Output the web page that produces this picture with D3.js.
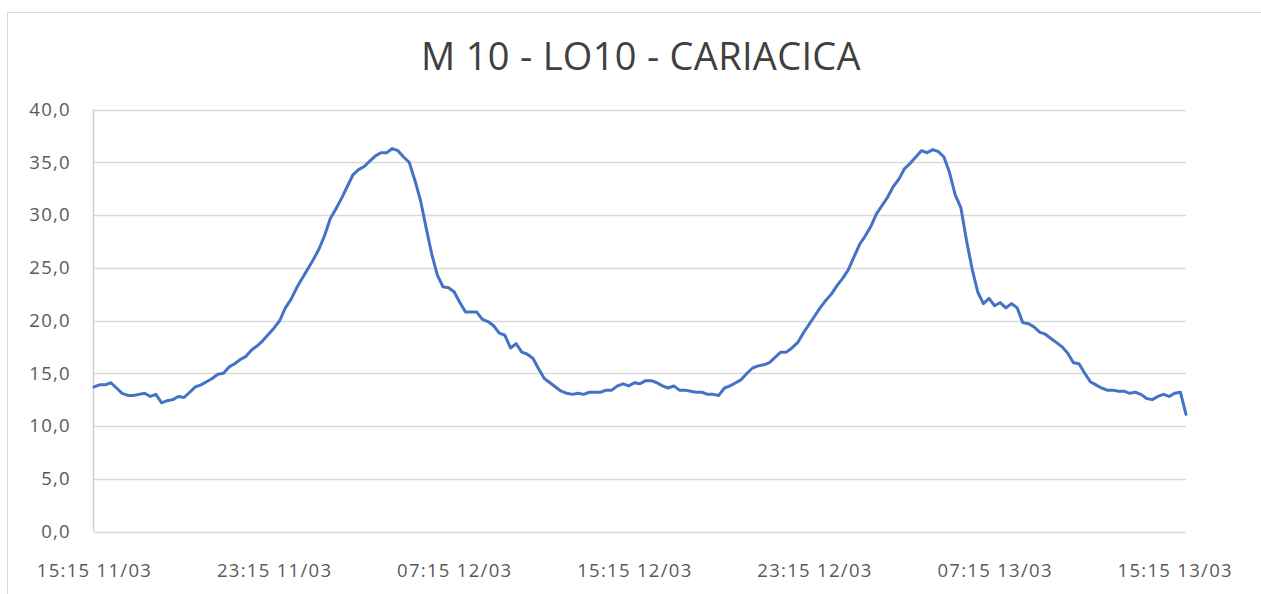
<!DOCTYPE html>
<html>
<head>
<meta charset="utf-8">
<script src="https://cdn.jsdelivr.net/npm/d3@7"></script>
<style>
  body { margin: 0; background: #fff; }
  svg text { font-family: "Open Sans", "Noto Sans", sans-serif; }
</style>
</head>
<body>
<div id="chart"></div>
<script>
// chart title
var title = "M 10 - LO10 - CARIACICA";

// readings every 15 minutes, starting 15:15 11/03
var startTime = new Date(2024, 2, 11, 15, 15);
var stepMinutes = 15;

// values
var values = [
  13.7, 13.9, 13.9, 14.1, 13.6, 13.1, 12.9, 12.9, 13.0, 13.1,
  12.8, 13.0, 12.2, 12.4, 12.5, 12.8, 12.7, 13.2, 13.7, 13.9,
  14.2, 14.5, 14.9, 15.0, 15.6, 15.9, 16.3, 16.6, 17.2, 17.6,
  18.1, 18.7, 19.3, 20.0, 21.2, 22.0, 23.1, 24.0, 24.9, 25.8,
  26.8, 28.1, 29.7, 30.6, 31.6, 32.7, 33.8, 34.3, 34.6, 35.1,
  35.6, 35.9, 35.9, 36.3, 36.1, 35.5, 35.0, 33.3, 31.4, 28.8,
  26.3, 24.3, 23.2, 23.1, 22.7, 21.7, 20.8, 20.8, 20.8, 20.1,
  19.9, 19.5, 18.8, 18.6, 17.4, 17.8, 17.0, 16.8, 16.4, 15.4,
  14.5, 14.1, 13.7, 13.3, 13.1, 13.0, 13.1, 13.0, 13.2, 13.2,
  13.2, 13.4, 13.4, 13.8, 14.0, 13.8, 14.1, 14.0, 14.3, 14.3,
  14.1, 13.8, 13.6, 13.8, 13.4, 13.4, 13.3, 13.2, 13.2, 13.0,
  13.0, 12.9, 13.6, 13.8, 14.1, 14.4, 15.0, 15.5, 15.7, 15.8,
  16.0, 16.5, 17.0, 17.0, 17.4, 17.9, 18.8, 19.6, 20.4, 21.2,
  21.9, 22.5, 23.3, 24.0, 24.8, 26.0, 27.2, 28.0, 28.9, 30.1,
  30.9, 31.7, 32.7, 33.4, 34.4, 34.9, 35.5, 36.1, 35.9, 36.2,
  36.0, 35.5, 34.0, 31.9, 30.7, 27.6, 24.9, 22.7, 21.6, 22.1,
  21.4, 21.7, 21.2, 21.6, 21.2, 19.8, 19.7, 19.4, 18.9, 18.7,
  18.3, 17.9, 17.5, 16.9, 16.0, 15.9, 15.0, 14.2, 13.9, 13.6,
  13.4, 13.4, 13.3, 13.3, 13.1, 13.2, 13.0, 12.6, 12.5, 12.8,
  13.0, 12.8, 13.1, 13.2, 11.1
];

// y ticks and x tick spacing (every 8 hours)
var yTicks = [0, 5, 10, 15, 20, 25, 30, 35, 40];
var xTickHours = [0, 8, 16, 24, 32, 40, 48];

var data = values.map(function(v, i) {
  return { t: d3.timeMinute.offset(startTime, i * stepMinutes), v: v };
});

var W = 1261, H = 594;
var plot = { left: 94, right: 1186, top: 109.5, bottom: 531.5 };

var svg = d3.select("#chart")
  .append("svg")
    .attr("width", W)
    .attr("height", H);

// chart border
svg.append("rect")
  .attr("x", 7.5).attr("y", 12.5)
  .attr("width", 1300).attr("height", 700)
  .attr("fill", "#fff")
  .attr("stroke", "#d9d9d9")
  .attr("stroke-width", 1);

svg.append("text")
  .attr("x", 641).attr("y", 70)
  .attr("text-anchor", "middle")
  .style("font-size", "38px")
  .style("letter-spacing", "0.3px")
  .style("fill", "#404040")
  .text(title);

var x = d3.scaleTime()
  .domain(d3.extent(data, function(d) { return d.t; }))
  .range([plot.left, plot.right]);

var y = d3.scaleLinear()
  .domain([0, 40])
  .range([plot.bottom, plot.top]);

// gridlines
svg.append("g")
  .selectAll("line")
  .data(yTicks)
  .enter()
  .append("line")
    .attr("x1", plot.left).attr("x2", plot.right)
    .attr("y1", function(d) { return Math.round(y(d)) + 0.5; })
    .attr("y2", function(d) { return Math.round(y(d)) + 0.5; })
    .attr("stroke", "#d9d9d9")
    .attr("stroke-width", 1.5);

// left axis line
svg.append("line")
  .attr("x1", plot.left - 0.5).attr("x2", plot.left - 0.5)
  .attr("y1", plot.top).attr("y2", plot.bottom)
  .attr("stroke", "#d0d0d0")
  .attr("stroke-width", 1.5);

// y axis labels
var yAxis = svg.append("g")
  .attr("transform", "translate(" + (plot.left - 23) + ",0)")
  .call(d3.axisLeft(y)
    .tickValues(yTicks)
    .tickSize(0)
    .tickPadding(0)
    .tickFormat(function(d) { return d3.format(".1f")(d).replace(".", ","); }));
yAxis.select(".domain").remove();
yAxis.selectAll("text")
  .style("font-size", "18.5px")
  .style("letter-spacing", "1.3px")
  .style("fill", "#595959")
  .style("font-family", "'Open Sans', sans-serif");

// x axis labels
var xTicks = xTickHours.map(function(h) { return d3.timeHour.offset(startTime, h); });
var xAxis = svg.append("g")
  .attr("transform", "translate(0," + (plot.bottom + 32) + ")")
  .call(d3.axisBottom(x)
    .tickValues(xTicks)
    .tickSize(0)
    .tickPadding(0)
    .tickFormat(d3.timeFormat("%H:%M %d/%m")));
xAxis.select(".domain").remove();
xAxis.selectAll("text")
  .style("font-size", "18.5px")
  .style("letter-spacing", "1.3px")
  .style("fill", "#595959")
  .style("font-family", "'Open Sans', sans-serif");

// the line
var line = d3.line()
  .x(function(d) { return x(d.t); })
  .y(function(d) { return y(d.v); });

svg.append("path")
  .datum(data)
  .attr("d", line)
  .attr("fill", "none")
  .attr("stroke", "#4472C4")
  .attr("stroke-width", 3)
  .attr("stroke-linejoin", "round")
  .attr("stroke-linecap", "round");
</script>
</body>
</html>
